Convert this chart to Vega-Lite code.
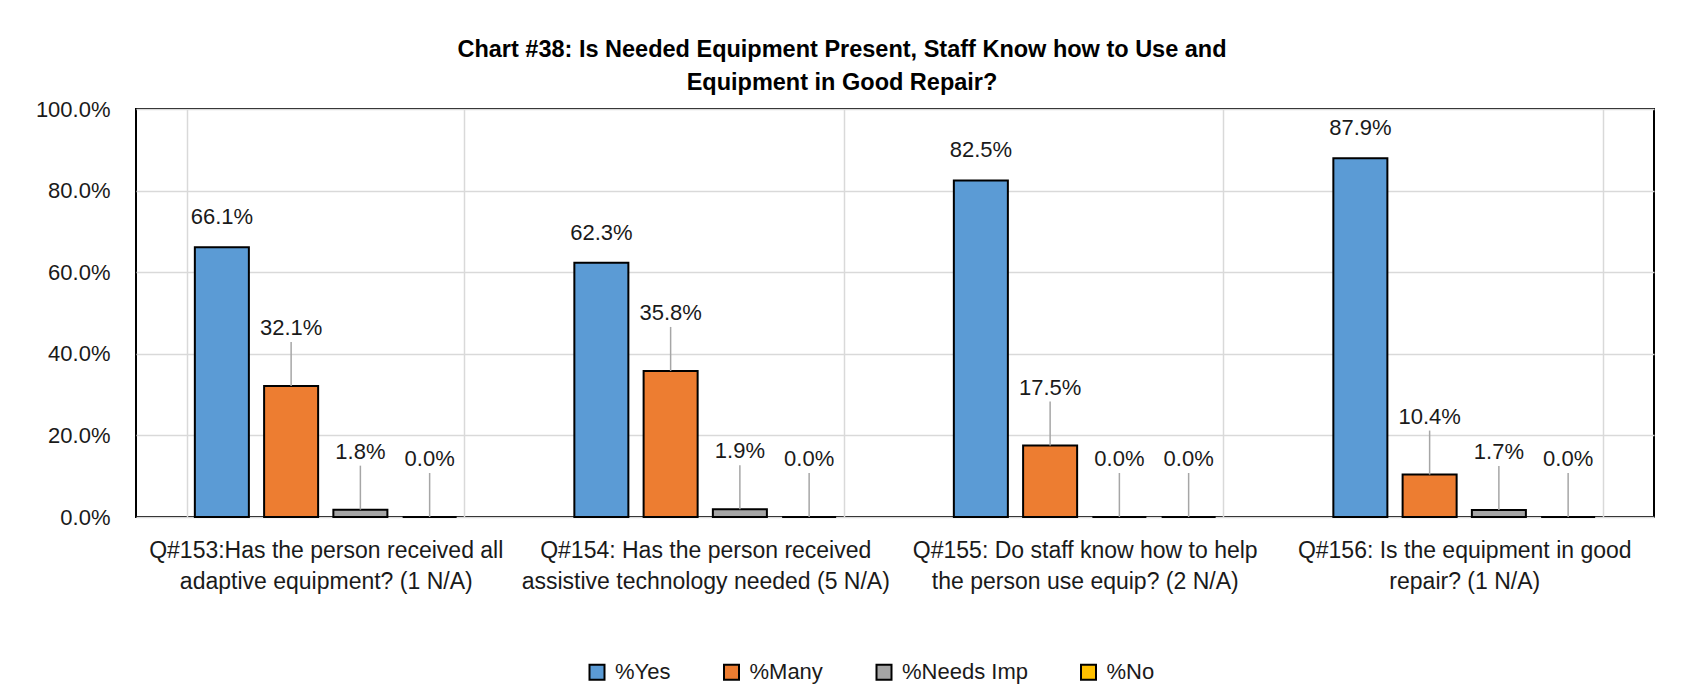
{
  "$schema": "https://vega.github.io/schema/vega-lite/v6.json",
  "width": 1518,
  "height": 408,
  "autosize": {"type": "none"},
  "padding": {"left": 136, "top": 109, "right": 30, "bottom": 175},
  "background": "white",
  "title": {
    "text": ["Chart #38:  Is Needed Equipment Present, Staff Know how to Use and", "Equipment in Good Repair?"],
    "font": "Liberation Sans",
    "fontSize": 23.5,
    "fontWeight": "bold",
    "color": "#000000",
    "lineHeight": 33,
    "dx": -53,
    "offset": 4,
    "anchor": "middle"
  },
  "data": {
    "values": [
      {"question": "Q#153:Has the person received all\nadaptive equipment? (1 N/A)", "series": "%Yes", "value": 0.661},
      {"question": "Q#153:Has the person received all\nadaptive equipment? (1 N/A)", "series": "%Many", "value": 0.321},
      {"question": "Q#153:Has the person received all\nadaptive equipment? (1 N/A)", "series": "%Needs Imp", "value": 0.018},
      {"question": "Q#153:Has the person received all\nadaptive equipment? (1 N/A)", "series": "%No", "value": 0.0},
      {"question": "Q#154: Has the person received\nassistive technology needed (5 N/A)", "series": "%Yes", "value": 0.623},
      {"question": "Q#154: Has the person received\nassistive technology needed (5 N/A)", "series": "%Many", "value": 0.358},
      {"question": "Q#154: Has the person received\nassistive technology needed (5 N/A)", "series": "%Needs Imp", "value": 0.019},
      {"question": "Q#154: Has the person received\nassistive technology needed (5 N/A)", "series": "%No", "value": 0.0},
      {"question": "Q#155: Do staff know how to help\nthe person use equip? (2 N/A)", "series": "%Yes", "value": 0.825},
      {"question": "Q#155: Do staff know how to help\nthe person use equip? (2 N/A)", "series": "%Many", "value": 0.175},
      {"question": "Q#155: Do staff know how to help\nthe person use equip? (2 N/A)", "series": "%Needs Imp", "value": 0.0},
      {"question": "Q#155: Do staff know how to help\nthe person use equip? (2 N/A)", "series": "%No", "value": 0.0},
      {"question": "Q#156: Is the equipment in good\nrepair? (1 N/A)", "series": "%Yes", "value": 0.879},
      {"question": "Q#156: Is the equipment in good\nrepair? (1 N/A)", "series": "%Many", "value": 0.104},
      {"question": "Q#156: Is the equipment in good\nrepair? (1 N/A)", "series": "%Needs Imp", "value": 0.017},
      {"question": "Q#156: Is the equipment in good\nrepair? (1 N/A)", "series": "%No", "value": 0.0}
    ]
  },
  "encoding": {
    "x": {
      "field": "question",
      "type": "nominal",
      "sort": null,
      "scale": {"paddingInner": 0.27, "paddingOuter": 0.135},
      "axis": {
        "title": null,
        "domain": false,
        "ticks": false,
        "labelAngle": 0,
        "labelFont": "Liberation Sans",
        "labelFontSize": 23,
        "labelColor": "#1a1a1a",
        "labelPadding": 22,
        "labelLineHeight": 31,
        "labelLimit": 0,
        "labelExpr": "split(datum.label, '\\n')",
        "grid": true,
        "tickBand": "extent",
        "gridColor": "#d9d9d9",
        "gridWidth": 1.5
      }
    },
    "xOffset": {
      "field": "series",
      "type": "nominal",
      "sort": ["%Yes", "%Many", "%Needs Imp", "%No"],
      "scale": {"paddingInner": 0.22, "paddingOuter": 0.11}
    },
    "y": {
      "field": "value",
      "type": "quantitative",
      "scale": {"domain": [0, 1]},
      "axis": {
        "title": null,
        "format": ".1%",
        "values": [0, 0.2, 0.4, 0.6, 0.8, 1],
        "domain": false,
        "ticks": false,
        "labelFont": "Liberation Sans",
        "labelFontSize": 22,
        "labelColor": "#1a1a1a",
        "labelPadding": 26,
        "gridColor": "#d9d9d9",
        "gridWidth": 1.5
      }
    }
  },
  "layer": [
    {
      "mark": {"type": "bar", "stroke": "#000000", "strokeWidth": 2},
      "encoding": {
        "color": {
          "field": "series",
          "type": "nominal",
          "scale": {"domain": ["%Yes", "%Many", "%Needs Imp", "%No"], "range": ["#5B9BD5", "#ED7D31", "#A5A5A5", "#FFC000"]},
          "legend": {
            "title": null,
            "orient": "none",
            "legendX": 450,
            "legendY": 552,
            "direction": "horizontal",
            "columns": 4,
            "padding": 0,
            "symbolType": "square",
            "symbolSize": 225,
            "symbolStrokeColor": "#000000",
            "symbolStrokeWidth": 2,
            "labelFont": "Liberation Sans",
            "labelFontSize": 22,
            "labelColor": "#1a1a1a",
            "labelOffset": 7,
            "columnPadding": 48.5
          }
        }
      }
    },
    {
      "transform": [{"filter": "datum.series == '%Yes'"}],
      "mark": {"type": "text", "dy": -30, "font": "Liberation Sans", "fontSize": 22, "color": "#1a1a1a", "baseline": "middle"},
      "encoding": {"text": {"field": "value", "type": "quantitative", "format": ".1%"}}
    },
    {
      "transform": [{"filter": "datum.series != '%Yes'"}],
      "mark": {"type": "rule", "y2Offset": -44, "color": "#a6a6a6", "strokeWidth": 1.5},
      "encoding": {"y2": {"field": "value"}}
    },
    {
      "transform": [{"filter": "datum.series != '%Yes'"}],
      "mark": {"type": "text", "dy": -58, "font": "Liberation Sans", "fontSize": 22, "color": "#1a1a1a", "baseline": "middle"},
      "encoding": {"text": {"field": "value", "type": "quantitative", "format": ".1%"}}
    }
  ],
  "config": {
    "view": {"stroke": "#000000", "strokeWidth": 2},
    "font": "Liberation Sans"
  }
}
